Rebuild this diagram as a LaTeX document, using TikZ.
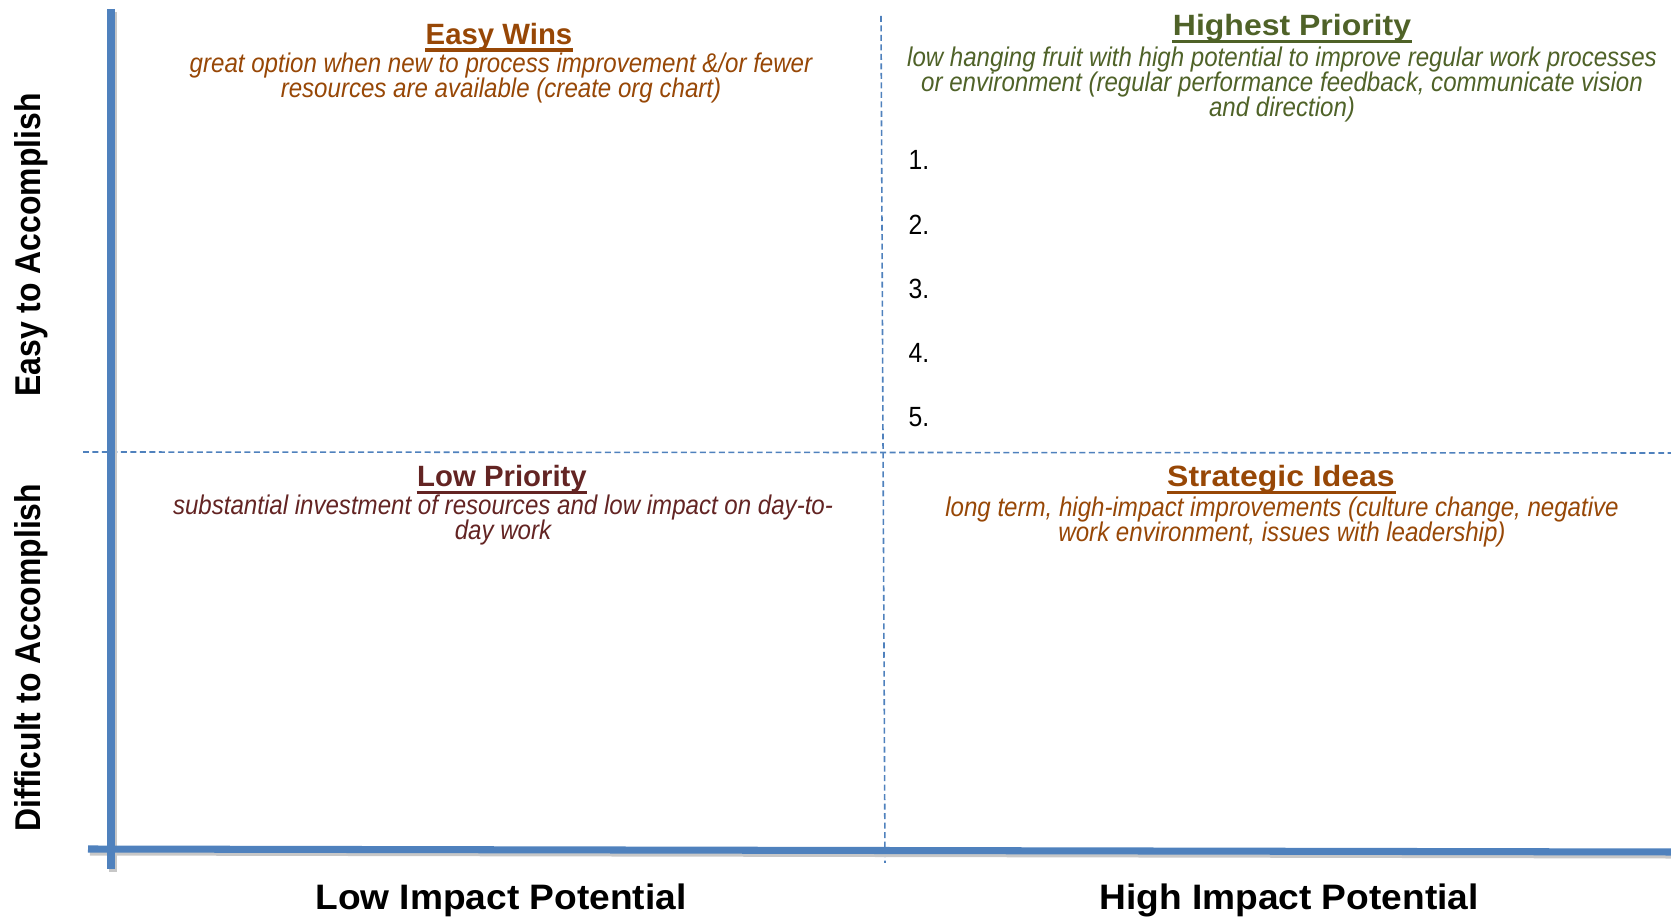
\documentclass[tikz,border=0pt]{standalone}
\usepackage{fontspec}
\setmainfont[FakeStretch=0.89]{Liberation Sans}
\newfontfamily\headfont{Liberation Sans}
\newfontfamily\wideheadfont[FakeStretch=1.09]{Liberation Sans}
\newfontfamily\axisfont[FakeStretch=1.05]{Liberation Sans}
\usepackage{xcolor}
\definecolor{axis blue}{HTML}{4F81BD}
\definecolor{easy col}{HTML}{974706}
\definecolor{top col}{HTML}{4F6228}
\definecolor{low col}{HTML}{632423}
\colorlet{axis shade}{black!22}
\def\tightlines{\lineskiplimit=-5pt\relax}
\tikzset{axis/.style={draw=axis blue, line width=2pt},
    shade line/.style={draw=axis shade, line width=2pt},
    divider/.style={draw=axis blue, line width=0.45pt, dash pattern=on 1.7pt off 1pt},
    heading/.style={inner sep=0pt, anchor=base, font=#1\bfseries\fontsize{8.35}{10}\selectfont},
    heading/.default=\headfont,
    blurb/.style={inner sep=0pt, anchor=north, align=center,
        font=\itshape\fontsize{7.7}{7.1}\selectfont\tightlines},
    axis label/.style={inner sep=0pt, anchor=base, font=\axisfont\bfseries\fontsize{10.06}{12}\selectfont},
    side label/.style={axis label, rotate=90, font=\bfseries\fontsize{10.2}{12}\selectfont},
    rung/.style={inner sep=0pt, anchor=base west, font=\fontsize{7.9}{9}\selectfont}}

\begin{document}
\begin{tikzpicture}
    \useasboundingbox (0,0) rectangle (16.71,-9.19);
    % quadrant dividers
    \draw[divider] (8.81,-0.16) -- (8.85,-8.63);
    \draw[divider] (0.83,-4.52) -- (16.71,-4.53);
    % axes
    \draw[shade line] (1.13,-0.12) -- (1.13,-8.72);
    \draw[shade line] (0.90,-8.52) -- (16.71,-8.55);
    \draw[axis] (1.11,-0.09) -- (1.11,-8.69);
    \draw[axis] (0.88,-8.49) -- (16.71,-8.52);

    \node[heading, text=easy col] (easywins) at (4.99,-0.445) {Easy Wins};
    \node[blurb, text=easy col] (easyblurb) at (5.01,-0.525)
        {great option when new to process improvement \&/or fewer\\resources are available (create org chart)};
    \node[heading=\wideheadfont, text=top col] (highest) at (12.92,-0.36) {Highest Priority};
    \node[blurb, text=top col] (highestblurb) at (12.82,-0.465)
        {low hanging fruit with high potential to improve regular work processes\\or environment (regular performance feedback, communicate vision\\and direction)};
    \node[heading, text=low col] (lowprio) at (5.02,-4.87) {Low Priority};
    \node[blurb, text=low col] (lowblurb) at (5.03,-4.94)
        {substantial investment of resources and low impact on day-to-\\day work};
    \node[heading=\wideheadfont, text=easy col] (strategic) at (12.81,-4.87) {Strategic Ideas};
    \node[blurb, text=easy col] (strategicblurb) at (12.82,-4.96)
        {long term, high-impact improvements (culture change, negative\\work environment, issues with leadership)};
    \foreach \t/\c in {easywins/easy col, highest/top col, lowprio/low col, strategic/easy col}
        \draw[\c, line width=1.05pt] ([yshift=-1.6pt]\t.base west) -- ([yshift=-1.6pt]\t.base east);

    \foreach \n in {1,...,5}
        \node[rung] (item\n) at (9.08,{-1.70-0.6425*(\n-1)}) {\n.};

    \node[axis label] (lowimpact) at (5.01,-9.095) {Low Impact Potential};
    \node[axis label] (highimpact) at (12.89,-9.095) {High Impact Potential};
    \node[side label] (easyacc) at (0.40,-2.45) {Easy to Accomplish};
    \node[side label] (diffacc) at (0.40,-6.575) {Difficult to Accomplish};
\end{tikzpicture}
\end{document}
